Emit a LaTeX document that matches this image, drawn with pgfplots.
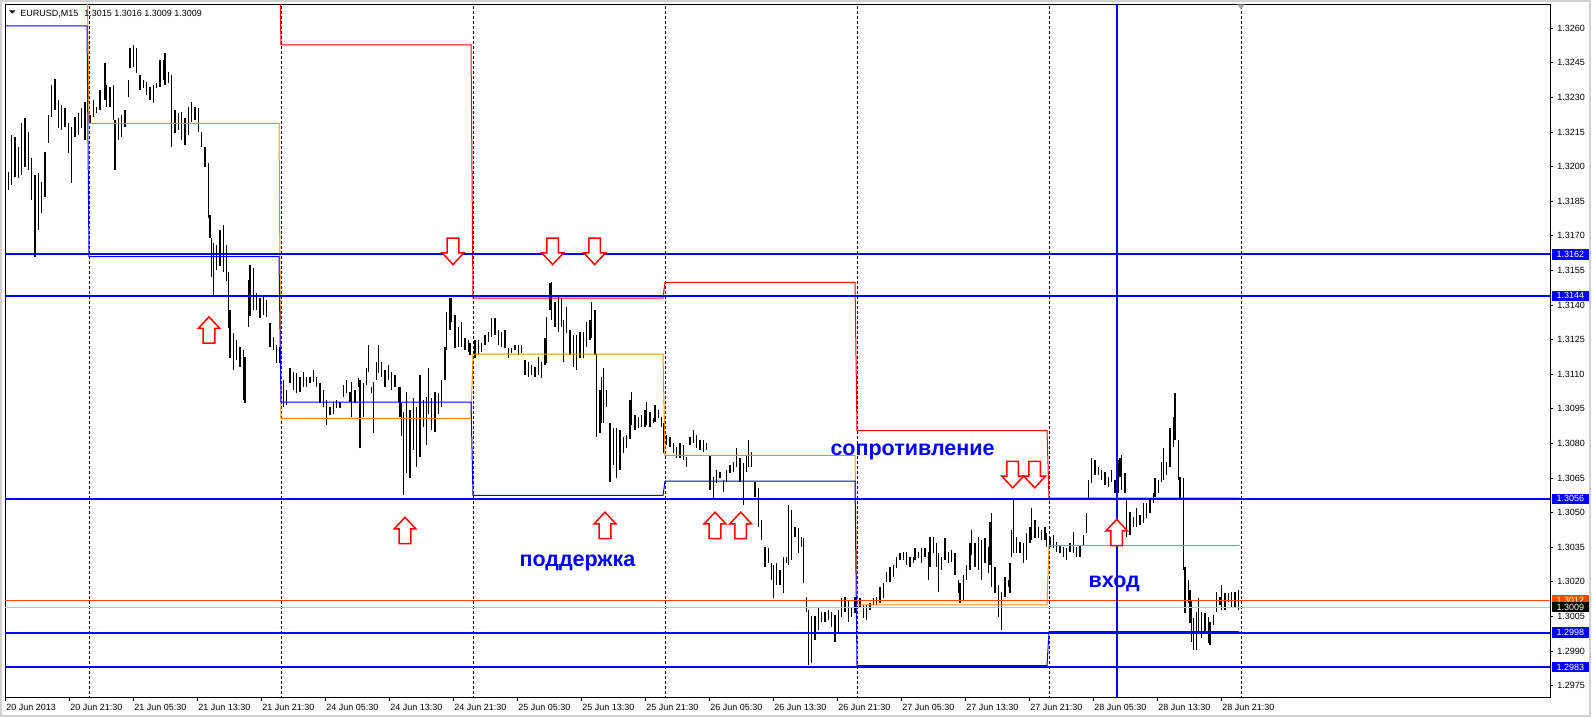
\documentclass[border=0pt]{standalone}
\usepackage{fontspec}
\setmainfont{Liberation Sans}
\usepackage{pgfplots}
\pgfplotsset{compat=1.18}
\definecolor{mtblue}{RGB}{0,0,255}
\definecolor{mtorange}{RGB}{255,140,0}
\definecolor{mtred}{RGB}{255,0,0}
\definecolor{mtorangered}{RGB}{255,69,0}
\definecolor{mtgray}{RGB}{192,192,192}
\pgfdeclareplotmark{arrowup}{%
  \pgfpathmoveto{\pgfqpoint{0pt}{6.6pt}}%
  \pgfpathlineto{\pgfqpoint{5.4pt}{0.8pt}}%
  \pgfpathlineto{\pgfqpoint{2.9pt}{0.8pt}}%
  \pgfpathlineto{\pgfqpoint{2.9pt}{-6.6pt}}%
  \pgfpathlineto{\pgfqpoint{-2.9pt}{-6.6pt}}%
  \pgfpathlineto{\pgfqpoint{-2.9pt}{0.8pt}}%
  \pgfpathlineto{\pgfqpoint{-5.4pt}{0.8pt}}%
  \pgfpathclose
  \pgfusepathqfillstroke}
\pgfdeclareplotmark{arrowdown}{%
  \pgfpathmoveto{\pgfqpoint{0pt}{-6.6pt}}%
  \pgfpathlineto{\pgfqpoint{5.4pt}{-0.8pt}}%
  \pgfpathlineto{\pgfqpoint{2.9pt}{-0.8pt}}%
  \pgfpathlineto{\pgfqpoint{2.9pt}{6.6pt}}%
  \pgfpathlineto{\pgfqpoint{-2.9pt}{6.6pt}}%
  \pgfpathlineto{\pgfqpoint{-2.9pt}{-0.8pt}}%
  \pgfpathlineto{\pgfqpoint{-5.4pt}{-0.8pt}}%
  \pgfpathclose
  \pgfusepathqfillstroke}
\begin{document}
\begin{tikzpicture}
\path[use as bounding box] (-2.5pt,-10pt) rectangle (793.5pt,349pt);
\draw[black!18, line width=1pt] (-2pt,-9pt) rectangle (792.3pt,348.5pt);
\begin{axis}[
  scale only axis, width=772.5pt, height=346.85pt,
  xmin=0, xmax=193.125, ymin=1.296967, ymax=1.327040,
  axis line style={black, line width=0.5pt},
  clip=true,
  tick align=outside, major tick length=1.5pt,
  tick style={black, line width=0.5pt},
  xtick pos=left, ytick pos=right, yticklabel pos=right,
  ytick={1.2975,1.2990,1.3005,1.3020,1.3035,1.3050,1.3065,1.3080,1.3095,1.3110,1.3125,1.3140,1.3155,1.3170,1.3185,1.3200,1.3215,1.3230,1.3245,1.3260},
  yticklabels={1.2975,1.2990,1.3005,1.3020,1.3035,1.3050,1.3065,1.3080,1.3095,1.3110,1.3125,1.3140,1.3155,1.3170,1.3185,1.3200,1.3215,1.3230,1.3245,1.3260},
  xtick={0,8,...,152},
  xticklabels={20 Jun 2013,20 Jun 21:30,21 Jun 05:30,21 Jun 13:30,21 Jun 21:30,24 Jun 05:30,24 Jun 13:30,24 Jun 21:30,25 Jun 05:30,25 Jun 13:30,25 Jun 21:30,26 Jun 05:30,26 Jun 13:30,26 Jun 21:30,27 Jun 05:30,27 Jun 13:30,27 Jun 21:30,28 Jun 05:30,28 Jun 13:30,28 Jun 21:30},
  xticklabel style={anchor=north west, inner sep=0pt, xshift=0.5pt, yshift=-1.5pt, font=\fontsize{4.5}{5.4}\selectfont},
  yticklabel style={anchor=west, inner sep=0pt, xshift=2pt, font=\fontsize{4.5}{5.4}\selectfont},
  unbounded coords=jump,
]
% day separators
\addplot[black, line width=0.5pt, dash pattern=on 1.5pt off 1pt, forget plot] coordinates {(10.5,1.29) (10.5,1.33)};
\addplot[black, line width=0.5pt, dash pattern=on 1.5pt off 1pt, forget plot] coordinates {(34.5,1.29) (34.5,1.33)};
\addplot[black, line width=0.5pt, dash pattern=on 1.5pt off 1pt, forget plot] coordinates {(58.5,1.29) (58.5,1.33)};
\addplot[black, line width=0.5pt, dash pattern=on 1.5pt off 1pt, forget plot] coordinates {(82.5,1.29) (82.5,1.33)};
\addplot[black, line width=0.5pt, dash pattern=on 1.5pt off 1pt, forget plot] coordinates {(106.5,1.29) (106.5,1.33)};
\addplot[black, line width=0.5pt, dash pattern=on 1.5pt off 1pt, forget plot] coordinates {(130.5,1.29) (130.5,1.33)};
\addplot[black, line width=0.5pt, dash pattern=on 1.5pt off 1pt, forget plot] coordinates {(154.5,1.29) (154.5,1.33)};
% price bars: each bar low -> high, separated by nan
\addplot[black, line width=0.75pt, mark=none, forget plot] coordinates {
(0.000,1.31820) (0.000,1.32022) (0.000,nan) (0.417,1.31899) (0.417,1.31979) (0.417,nan) (0.833,1.31921) (0.833,1.32138) (0.833,nan)
(1.250,1.31957) (1.250,1.32130) (1.250,nan) (1.667,1.31950) (1.667,1.32087) (1.667,nan) (2.083,1.31964) (2.083,1.32188) (2.083,nan)
(2.500,1.32000) (2.500,1.32210) (2.500,nan) (2.917,1.31986) (2.917,1.32152) (2.917,nan) (3.333,1.31856) (3.333,1.32036) (3.333,nan)
(3.750,1.31610) (3.750,1.31964) (3.750,nan) (4.167,1.31726) (4.167,1.31971) (4.167,nan) (4.583,1.31798) (4.583,1.31935) (4.583,nan)
(5.000,1.31870) (5.000,1.32065) (5.000,nan) (5.417,1.32101) (5.417,1.32224) (5.417,nan) (5.833,1.32217) (5.833,1.32354) (5.833,nan)
(6.250,1.32246) (6.250,1.32380) (6.250,nan) (6.667,1.32166) (6.667,1.32289) (6.667,nan) (7.083,1.32159) (7.083,1.32268) (7.083,nan)
(7.500,1.32174) (7.500,1.32253) (7.500,nan) (7.917,1.32058) (7.917,1.32188) (7.917,nan) (8.333,1.31928) (8.333,1.32174) (8.333,nan)
(8.750,1.32130) (8.750,1.32217) (8.750,nan) (9.167,1.32138) (9.167,1.32232) (9.167,nan) (9.583,1.32166) (9.583,1.32253) (9.583,nan)
(10.000,1.32116) (10.000,1.32282) (10.000,nan) (10.625,1.32188) (10.625,1.32224) (10.625,nan) (11.042,1.32217) (11.042,1.32289) (11.042,nan)
(11.458,1.32232) (11.458,1.32260) (11.458,nan) (11.875,1.32246) (11.875,1.32333) (11.875,nan) (12.500,1.32289) (12.500,1.32448) (12.500,nan)
(12.708,1.32260) (12.708,1.32354) (12.708,nan) (13.125,1.32260) (13.125,1.32347) (13.125,nan) (13.542,1.32203) (13.542,1.32354) (13.542,nan)
(13.750,1.31986) (13.750,1.32203) (13.750,nan) (14.167,1.32116) (14.167,1.32210) (14.167,nan) (14.583,1.32130) (14.583,1.32224) (14.583,nan)
(15.000,1.32174) (15.000,1.32246) (15.000,nan) (15.417,1.32304) (15.417,1.32376) (15.417,nan) (15.625,1.32427) (15.625,1.32513) (15.625,nan)
(16.042,1.32434) (16.042,1.32528) (16.042,nan) (16.458,1.32405) (16.458,1.32513) (16.458,nan) (16.875,1.32333) (16.875,1.32398) (16.875,nan)
(17.292,1.32340) (17.292,1.32376) (17.292,nan) (17.708,1.32311) (17.708,1.32369) (17.708,nan) (18.125,1.32289) (18.125,1.32347) (18.125,nan)
(18.542,1.32275) (18.542,1.32354) (18.542,nan) (18.958,1.32340) (18.958,1.32362) (18.958,nan) (19.375,1.32347) (19.375,1.32463) (19.375,nan)
(19.792,1.32376) (19.792,1.32463) (19.792,nan) (20.000,1.32354) (20.000,1.32492) (20.000,nan) (20.417,1.32362) (20.417,1.32412) (20.417,nan)
(20.833,1.32087) (20.833,1.32398) (20.833,nan) (21.250,1.32145) (21.250,1.32246) (21.250,nan) (21.667,1.32159) (21.667,1.32232) (21.667,nan)
(22.083,1.32116) (22.083,1.32239) (22.083,nan) (22.500,1.32094) (22.500,1.32210) (22.500,nan) (22.917,1.32138) (22.917,1.32260) (22.917,nan)
(23.333,1.32195) (23.333,1.32282) (23.333,nan) (23.750,1.32203) (23.750,1.32260) (23.750,nan) (24.167,1.32152) (24.167,1.32253) (24.167,nan)
(24.583,1.32087) (24.583,1.32152) (24.583,nan) (25.000,1.32000) (25.000,1.32087) (25.000,nan) (25.417,1.31776) (25.417,1.32015) (25.417,nan)
(25.625,1.31690) (25.625,1.31791) (25.625,nan) (25.833,1.31523) (25.833,1.31690) (25.833,nan) (26.042,1.31444) (26.042,1.31669) (26.042,nan)
(26.458,1.31552) (26.458,1.31661) (26.458,nan) (26.875,1.31570) (26.875,1.31726) (26.875,nan) (27.292,1.31544) (27.292,1.31747) (27.292,nan)
(27.708,1.31504) (27.708,1.31661) (27.708,nan) (27.917,1.31299) (27.917,1.31545) (27.917,nan) (28.125,1.31169) (28.125,1.31379) (28.125,nan)
(28.542,1.31119) (28.542,1.31278) (28.542,nan) (28.958,1.31162) (28.958,1.31249) (28.958,nan) (29.375,1.31133) (29.375,1.31220) (29.375,nan)
(29.792,1.30988) (29.792,1.31205) (29.792,nan) (30.000,1.30974) (30.000,1.31177) (30.000,nan) (30.417,1.31307) (30.417,1.31509) (30.417,nan)
(30.625,1.31351) (30.625,1.31574) (30.625,nan) (31.042,1.31379) (31.042,1.31559) (31.042,nan) (31.458,1.31379) (31.458,1.31451) (31.458,nan)
(31.875,1.31343) (31.875,1.31429) (31.875,nan) (32.292,1.31357) (32.292,1.31444) (32.292,nan) (32.708,1.31350) (32.708,1.31422) (32.708,nan)
(33.125,1.31220) (33.125,1.31321) (33.125,nan) (33.542,1.31205) (33.542,1.31263) (33.542,nan) (33.958,1.31148) (33.958,1.31227) (33.958,nan)
(34.375,1.31148) (34.375,1.31220) (34.375,nan) (34.792,1.30960) (34.792,1.31075) (34.792,nan) (35.208,1.30967) (35.208,1.31032) (35.208,nan)
(35.625,1.31061) (35.625,1.31126) (35.625,nan) (36.042,1.31032) (36.042,1.31111) (36.042,nan) (36.458,1.31017) (36.458,1.31104) (36.458,nan)
(36.875,1.31025) (36.875,1.31090) (36.875,nan) (37.292,1.31047) (37.292,1.31111) (37.292,nan) (37.708,1.31047) (37.708,1.31090) (37.708,nan)
(38.125,1.31061) (38.125,1.31090) (38.125,nan) (38.542,1.31068) (38.542,1.31119) (38.542,nan) (38.958,1.31047) (38.958,1.31090) (38.958,nan)
(39.375,1.30974) (39.375,1.31061) (39.375,nan) (39.792,1.30960) (39.792,1.31032) (39.792,nan) (40.208,1.30880) (40.208,1.30988) (40.208,nan)
(40.625,1.30924) (40.625,1.30960) (40.625,nan) (41.042,1.30930) (41.042,1.30981) (41.042,nan) (41.458,1.30953) (41.458,1.30988) (41.458,nan)
(41.875,1.30953) (41.875,1.30981) (41.875,nan) (42.292,1.31003) (42.292,1.31054) (42.292,nan) (42.708,1.31017) (42.708,1.31075) (42.708,nan)
(43.125,1.30981) (43.125,1.31025) (43.125,nan) (43.333,1.30916) (43.333,1.31068) (43.333,nan) (43.750,1.30974) (43.750,1.31032) (43.750,nan)
(44.167,1.31047) (44.167,1.31083) (44.167,nan) (44.375,1.30779) (44.375,1.31075) (44.375,nan) (44.792,1.30916) (44.792,1.31061) (44.792,nan)
(45.208,1.31054) (45.208,1.31126) (45.208,nan) (45.417,1.31111) (45.417,1.31227) (45.417,nan) (45.833,1.31017) (45.833,1.31047) (45.833,nan)
(46.042,1.30844) (46.042,1.31068) (46.042,nan) (46.458,1.31075) (46.458,1.31155) (46.458,nan) (46.667,1.31104) (46.667,1.31227) (46.667,nan)
(47.083,1.31090) (47.083,1.31155) (47.083,nan) (47.500,1.31047) (47.500,1.31119) (47.500,nan) (47.917,1.31075) (47.917,1.31140) (47.917,nan)
(48.333,1.31032) (48.333,1.31111) (48.333,nan) (48.750,1.31047) (48.750,1.31097) (48.750,nan) (49.167,1.30981) (49.167,1.31047) (49.167,nan)
(49.375,1.30916) (49.375,1.31047) (49.375,nan) (49.583,1.30831) (49.583,1.30974) (49.583,nan) (49.792,1.30577) (49.792,1.30938) (49.792,nan)
(50.208,1.30671) (50.208,1.31025) (50.208,nan) (50.625,1.30649) (50.625,1.30946) (50.625,nan) (51.042,1.30772) (51.042,1.30996) (51.042,nan)
(51.458,1.30700) (51.458,1.30960) (51.458,nan) (51.875,1.30743) (51.875,1.31097) (51.875,nan) (52.292,1.30873) (52.292,1.30988) (52.292,nan)
(52.708,1.30793) (52.708,1.31003) (52.708,nan) (52.917,1.30930) (52.917,1.31126) (52.917,nan) (53.333,1.30858) (53.333,1.30996) (53.333,nan)
(53.750,1.30851) (53.750,1.31025) (53.750,nan) (54.167,1.30930) (54.167,1.31017) (54.167,nan) (54.583,1.30960) (54.583,1.31075) (54.583,nan)
(55.000,1.31075) (55.000,1.31220) (55.000,nan) (55.208,1.31205) (55.208,1.31372) (55.208,nan) (55.625,1.31292) (55.625,1.31429) (55.625,nan)
(55.833,1.31328) (55.833,1.31429) (55.833,nan) (56.250,1.31213) (56.250,1.31357) (56.250,nan) (56.667,1.31220) (56.667,1.31306) (56.667,nan)
(57.083,1.31220) (57.083,1.31328) (57.083,nan) (57.500,1.31205) (57.500,1.31256) (57.500,nan) (57.917,1.31198) (57.917,1.31249) (57.917,nan)
(58.125,1.31184) (58.125,1.31234) (58.125,nan) (58.750,1.31169) (58.750,1.31249) (58.750,nan) (59.167,1.31183) (59.167,1.31249) (59.167,nan)
(59.583,1.31198) (59.583,1.31234) (59.583,nan) (60.000,1.31227) (60.000,1.31270) (60.000,nan) (60.417,1.31242) (60.417,1.31285) (60.417,nan)
(60.833,1.31263) (60.833,1.31343) (60.833,nan) (61.250,1.31270) (61.250,1.31343) (61.250,nan) (61.667,1.31227) (61.667,1.31292) (61.667,nan)
(62.083,1.31220) (62.083,1.31285) (62.083,nan) (62.500,1.31213) (62.500,1.31292) (62.500,nan) (62.917,1.31169) (62.917,1.31213) (62.917,nan)
(63.333,1.31191) (63.333,1.31213) (63.333,nan) (63.750,1.31205) (63.750,1.31227) (63.750,nan) (64.167,1.31183) (64.167,1.31227) (64.167,nan)
(64.583,1.31191) (64.583,1.31227) (64.583,nan) (65.000,1.31097) (65.000,1.31162) (65.000,nan) (65.417,1.31090) (65.417,1.31155) (65.417,nan)
(65.833,1.31097) (65.833,1.31140) (65.833,nan) (66.250,1.31090) (66.250,1.31133) (66.250,nan) (66.667,1.31097) (66.667,1.31177) (66.667,nan)
(67.083,1.31083) (67.083,1.31155) (67.083,nan) (67.500,1.31140) (67.500,1.31256) (67.500,nan) (67.708,1.31148) (67.708,1.31350) (67.708,nan)
(68.125,1.31379) (68.125,1.31494) (68.125,nan) (68.333,1.31335) (68.333,1.31502) (68.333,nan) (68.750,1.31306) (68.750,1.31415) (68.750,nan)
(69.167,1.31285) (69.167,1.31437) (69.167,nan) (69.583,1.31306) (69.583,1.31429) (69.583,nan) (69.792,1.31155) (69.792,1.31335) (69.792,nan)
(70.208,1.31278) (70.208,1.31393) (70.208,nan) (70.625,1.31183) (70.625,1.31292) (70.625,nan) (71.042,1.31133) (71.042,1.31270) (71.042,nan)
(71.458,1.31119) (71.458,1.31270) (71.458,nan) (71.875,1.31169) (71.875,1.31285) (71.875,nan) (72.292,1.31169) (72.292,1.31285) (72.292,nan)
(72.708,1.31220) (72.708,1.31328) (72.708,nan) (73.125,1.31249) (73.125,1.31335) (73.125,nan) (73.333,1.31256) (73.333,1.31415) (73.333,nan)
(73.750,1.31183) (73.750,1.31379) (73.750,nan) (73.958,1.30829) (73.958,1.31190) (73.958,nan) (74.375,1.30844) (74.375,1.31032) (74.375,nan)
(74.583,1.30887) (74.583,1.31090) (74.583,nan) (74.792,1.30887) (74.792,1.31126) (74.792,nan) (75.208,1.30960) (75.208,1.31032) (75.208,nan)
(75.625,1.30634) (75.625,1.30887) (75.625,nan) (76.042,1.30707) (76.042,1.30866) (76.042,nan) (76.458,1.30649) (76.458,1.30866) (76.458,nan)
(76.875,1.30685) (76.875,1.30858) (76.875,nan) (77.292,1.30757) (77.292,1.30829) (77.292,nan) (77.708,1.30779) (77.708,1.30837) (77.708,nan)
(78.125,1.30821) (78.125,1.30988) (78.125,nan) (78.333,1.30880) (78.333,1.31025) (78.333,nan) (78.750,1.30858) (78.750,1.30924) (78.750,nan)
(79.167,1.30866) (79.167,1.30916) (79.167,nan) (79.583,1.30873) (79.583,1.30924) (79.583,nan) (80.000,1.30873) (80.000,1.30946) (80.000,nan)
(80.208,1.30880) (80.208,1.30981) (80.208,nan) (80.625,1.30873) (80.625,1.30938) (80.625,nan) (81.042,1.30887) (81.042,1.30909) (81.042,nan)
(81.250,1.30894) (81.250,1.30967) (81.250,nan) (81.667,1.30909) (81.667,1.30946) (81.667,nan) (82.083,1.30873) (82.083,1.30916) (82.083,nan)
(82.292,1.30757) (82.292,1.30887) (82.292,nan) (82.708,1.30794) (82.708,1.30837) (82.708,nan) (83.125,1.30786) (83.125,1.30830) (83.125,nan)
(83.542,1.30757) (83.542,1.30800) (83.542,nan) (83.958,1.30736) (83.958,1.30786) (83.958,nan) (84.375,1.30736) (84.375,1.30800) (84.375,nan)
(84.792,1.30728) (84.792,1.30794) (84.792,nan) (85.208,1.30699) (85.208,1.30743) (85.208,nan) (85.625,1.30794) (85.625,1.30830) (85.625,nan)
(86.042,1.30800) (86.042,1.30859) (86.042,nan) (86.458,1.30779) (86.458,1.30837) (86.458,nan) (86.875,1.30772) (86.875,1.30815) (86.875,nan)
(87.292,1.30765) (87.292,1.30815) (87.292,nan) (87.708,1.30772) (87.708,1.30800) (87.708,nan) (88.125,1.30598) (88.125,1.30750) (88.125,nan)
(88.542,1.30562) (88.542,1.30656) (88.542,nan) (88.958,1.30627) (88.958,1.30685) (88.958,nan) (89.375,1.30649) (89.375,1.30677) (89.375,nan)
(89.792,1.30591) (89.792,1.30641) (89.792,nan) (90.208,1.30634) (90.208,1.30685) (90.208,nan) (90.625,1.30671) (90.625,1.30706) (90.625,nan)
(91.042,1.30678) (91.042,1.30721) (91.042,nan) (91.458,1.30699) (91.458,1.30779) (91.458,nan) (91.875,1.30634) (91.875,1.30735) (91.875,nan)
(92.292,1.30533) (92.292,1.30714) (92.292,nan) (92.708,1.30678) (92.708,1.30750) (92.708,nan) (92.917,1.30699) (92.917,1.30815) (92.917,nan)
(93.333,1.30699) (93.333,1.30764) (93.333,nan) (93.750,1.30570) (93.750,1.30634) (93.750,nan) (94.167,1.30440) (94.167,1.30606) (94.167,nan)
(94.583,1.30382) (94.583,1.30468) (94.583,nan) (95.000,1.30266) (95.000,1.30353) (95.000,nan) (95.417,1.30281) (95.417,1.30346) (95.417,nan)
(95.833,1.30208) (95.833,1.30281) (95.833,nan) (96.042,1.30129) (96.042,1.30273) (96.042,nan) (96.458,1.30187) (96.458,1.30281) (96.458,nan)
(96.875,1.30187) (96.875,1.30252) (96.875,nan) (97.292,1.30151) (97.292,1.30310) (97.292,nan) (97.708,1.30281) (97.708,1.30310) (97.708,nan)
(97.917,1.30273) (97.917,1.30533) (97.917,nan) (98.333,1.30295) (98.333,1.30511) (98.333,nan) (98.750,1.30396) (98.750,1.30439) (98.750,nan)
(99.167,1.30324) (99.167,1.30432) (99.167,nan) (99.583,1.30353) (99.583,1.30396) (99.583,nan) (99.792,1.30194) (99.792,1.30389) (99.792,nan)
(100.208,1.30071) (100.208,1.30136) (100.208,nan) (100.417,1.29840) (100.417,1.30078) (100.417,nan) (100.833,1.29847) (100.833,1.30050) (100.833,nan)
(101.250,1.29948) (101.250,1.30050) (101.250,nan) (101.667,1.29992) (101.667,1.30086) (101.667,nan) (102.083,1.30028) (102.083,1.30071) (102.083,nan)
(102.500,1.30028) (102.500,1.30071) (102.500,nan) (102.917,1.30035) (102.917,1.30078) (102.917,nan) (103.333,1.30006) (103.333,1.30071) (103.333,nan)
(103.750,1.29941) (103.750,1.30057) (103.750,nan) (104.167,1.29977) (104.167,1.30078) (104.167,nan) (104.583,1.30049) (104.583,1.30129) (104.583,nan)
(105.000,1.30071) (105.000,1.30136) (105.000,nan) (105.417,1.30028) (105.417,1.30122) (105.417,nan) (105.833,1.30049) (105.833,1.30093) (105.833,nan)
(106.250,1.30064) (106.250,1.30136) (106.250,nan) (106.875,1.30093) (106.875,1.30129) (106.875,nan) (107.292,1.30042) (107.292,1.30100) (107.292,nan)
(107.708,1.30035) (107.708,1.30100) (107.708,nan) (108.125,1.30078) (108.125,1.30107) (108.125,nan) (108.542,1.30100) (108.542,1.30129) (108.542,nan)
(108.958,1.30100) (108.958,1.30136) (108.958,nan) (109.375,1.30107) (109.375,1.30179) (109.375,nan) (109.792,1.30129) (109.792,1.30194) (109.792,nan)
(110.208,1.30201) (110.208,1.30244) (110.208,nan) (110.625,1.30201) (110.625,1.30266) (110.625,nan) (111.042,1.30223) (111.042,1.30273) (111.042,nan)
(111.458,1.30259) (111.458,1.30310) (111.458,nan) (111.875,1.30295) (111.875,1.30324) (111.875,nan) (112.292,1.30295) (112.292,1.30331) (112.292,nan)
(112.708,1.30273) (112.708,1.30331) (112.708,nan) (113.125,1.30266) (113.125,1.30310) (113.125,nan) (113.542,1.30281) (113.542,1.30310) (113.542,nan)
(113.750,1.30295) (113.750,1.30346) (113.750,nan) (114.167,1.30302) (114.167,1.30331) (114.167,nan) (114.583,1.30281) (114.583,1.30346) (114.583,nan)
(115.000,1.30310) (115.000,1.30346) (115.000,nan) (115.417,1.30208) (115.417,1.30331) (115.417,nan) (115.625,1.30266) (115.625,1.30396) (115.625,nan)
(116.042,1.30324) (116.042,1.30396) (116.042,nan) (116.458,1.30266) (116.458,1.30367) (116.458,nan) (116.667,1.30157) (116.667,1.30324) (116.667,nan)
(117.083,1.30252) (117.083,1.30310) (117.083,nan) (117.500,1.30295) (117.500,1.30389) (117.500,nan) (117.917,1.30281) (117.917,1.30331) (117.917,nan)
(118.333,1.30288) (118.333,1.30338) (118.333,nan) (118.750,1.30230) (118.750,1.30324) (118.750,nan) (119.167,1.30150) (119.167,1.30208) (119.167,nan)
(119.375,1.30107) (119.375,1.30194) (119.375,nan) (119.792,1.30122) (119.792,1.30230) (119.792,nan) (120.208,1.30208) (120.208,1.30273) (120.208,nan)
(120.625,1.30252) (120.625,1.30367) (120.625,nan) (120.833,1.30317) (120.833,1.30425) (120.833,nan) (121.250,1.30266) (121.250,1.30367) (121.250,nan)
(121.667,1.30252) (121.667,1.30396) (121.667,nan) (122.083,1.30208) (122.083,1.30382) (122.083,nan) (122.500,1.30281) (122.500,1.30389) (122.500,nan)
(122.917,1.30237) (122.917,1.30353) (122.917,nan) (123.125,1.30273) (123.125,1.30461) (123.125,nan) (123.333,1.30179) (123.333,1.30497) (123.333,nan)
(123.750,1.30150) (123.750,1.30266) (123.750,nan) (124.167,1.30049) (124.167,1.30187) (124.167,nan) (124.583,1.29992) (124.583,1.30158) (124.583,nan)
(125.000,1.30136) (125.000,1.30223) (125.000,nan) (125.417,1.30179) (125.417,1.30208) (125.417,nan) (125.625,1.30151) (125.625,1.30281) (125.625,nan)
(125.833,1.30310) (125.833,1.30425) (125.833,nan) (126.042,1.30324) (126.042,1.30555) (126.042,nan) (126.458,1.30324) (126.458,1.30396) (126.458,nan)
(126.875,1.30324) (126.875,1.30375) (126.875,nan) (127.292,1.30281) (127.292,1.30367) (127.292,nan) (127.708,1.30295) (127.708,1.30410) (127.708,nan)
(128.125,1.30367) (128.125,1.30439) (128.125,nan) (128.333,1.30382) (128.333,1.30519) (128.333,nan) (128.750,1.30389) (128.750,1.30468) (128.750,nan)
(129.167,1.30389) (129.167,1.30439) (129.167,nan) (129.583,1.30382) (129.583,1.30425) (129.583,nan) (130.000,1.30382) (130.000,1.30439) (130.000,nan)
(130.208,1.30353) (130.208,1.30410) (130.208,nan) (130.625,1.30353) (130.625,1.30396) (130.625,nan) (131.042,1.30346) (131.042,1.30403) (131.042,nan)
(131.458,1.30331) (131.458,1.30375) (131.458,nan) (131.875,1.30324) (131.875,1.30360) (131.875,nan) (132.292,1.30310) (132.292,1.30353) (132.292,nan)
(132.708,1.30295) (132.708,1.30346) (132.708,nan) (133.125,1.30331) (133.125,1.30367) (133.125,nan) (133.542,1.30324) (133.542,1.30418) (133.542,nan)
(133.958,1.30310) (133.958,1.30353) (133.958,nan) (134.375,1.30310) (134.375,1.30360) (134.375,nan) (134.792,1.30360) (134.792,1.30403) (134.792,nan)
(135.208,1.30410) (135.208,1.30497) (135.208,nan) (135.417,1.30555) (135.417,1.30642) (135.417,nan) (135.833,1.30627) (135.833,1.30736) (135.833,nan)
(136.250,1.30663) (136.250,1.30728) (136.250,nan) (136.667,1.30663) (136.667,1.30699) (136.667,nan) (137.083,1.30641) (137.083,1.30685) (137.083,nan)
(137.500,1.30620) (137.500,1.30678) (137.500,nan) (137.917,1.30613) (137.917,1.30656) (137.917,nan) (138.333,1.30634) (138.333,1.30685) (138.333,nan)
(138.750,1.30584) (138.750,1.30642) (138.750,nan) (139.167,1.30584) (139.167,1.30728) (139.167,nan) (139.375,1.30656) (139.375,1.30736) (139.375,nan)
(139.583,1.30598) (139.583,1.30750) (139.583,nan) (140.000,1.30584) (140.000,1.30671) (140.000,nan) (140.208,1.30396) (140.208,1.30562) (140.208,nan)
(140.625,1.30403) (140.625,1.30504) (140.625,nan) (141.042,1.30439) (141.042,1.30482) (141.042,nan) (141.458,1.30439) (141.458,1.30519) (141.458,nan)
(141.875,1.30447) (141.875,1.30490) (141.875,nan) (142.292,1.30454) (142.292,1.30540) (142.292,nan) (142.708,1.30475) (142.708,1.30540) (142.708,nan)
(143.125,1.30497) (143.125,1.30555) (143.125,nan) (143.542,1.30540) (143.542,1.30584) (143.542,nan) (143.750,1.30569) (143.750,1.30649) (143.750,nan)
(144.167,1.30584) (144.167,1.30642) (144.167,nan) (144.583,1.30634) (144.583,1.30721) (144.583,nan) (144.792,1.30642) (144.792,1.30779) (144.792,nan)
(145.208,1.30663) (145.208,1.30721) (145.208,nan) (145.625,1.30700) (145.625,1.30866) (145.625,nan) (146.042,1.30786) (146.042,1.30916) (146.042,nan)
(146.250,1.30815) (146.250,1.31017) (146.250,nan) (146.667,1.30642) (146.667,1.30815) (146.667,nan) (146.875,1.30555) (146.875,1.30656) (146.875,nan)
(147.292,1.30252) (147.292,1.30649) (147.292,nan) (147.500,1.30064) (147.500,1.30266) (147.500,nan) (147.917,1.30107) (147.917,1.30208) (147.917,nan)
(148.125,1.30020) (148.125,1.30165) (148.125,nan) (148.333,1.29941) (148.333,1.30122) (148.333,nan) (148.542,1.29905) (148.542,1.30042) (148.542,nan)
(148.958,1.29905) (148.958,1.30071) (148.958,nan) (149.167,1.29977) (149.167,1.30129) (149.167,nan) (149.583,1.29955) (149.583,1.30071) (149.583,nan)
(150.000,1.29977) (150.000,1.30064) (150.000,nan) (150.417,1.29934) (150.417,1.30049) (150.417,nan) (150.625,1.29926) (150.625,1.30028) (150.625,nan)
(151.042,1.30013) (151.042,1.30057) (151.042,nan) (151.458,1.30071) (151.458,1.30158) (151.458,nan) (151.875,1.30100) (151.875,1.30136) (151.875,nan)
(152.083,1.30078) (152.083,1.30187) (152.083,nan) (152.500,1.30078) (152.500,1.30151) (152.500,nan) (152.917,1.30115) (152.917,1.30151) (152.917,nan)
(153.333,1.30086) (153.333,1.30158) (153.333,nan) (153.750,1.30093) (153.750,1.30158) (153.750,nan) (154.167,1.30078) (154.167,1.30165) (154.167,nan)
};
% daily levels indicator
\addplot[mtred, line width=0.5pt, forget plot] coordinates {(0,1.3300) (10.25,1.3300) (10.5,1.3300) (34.25,1.3300) (34.5,1.32528) (58.25,1.32528) (58.5,1.31430) (82.25,1.31430) (82.5,1.31499) (106.25,1.31499) (106.5,1.30856) (130.25,1.30856) (130.5,1.30563) (154.25,1.30563)};
\addplot[mtorange, line width=0.5pt, forget plot] coordinates {(0,1.3290) (10.25,1.3290) (10.5,1.32188) (34.25,1.32188) (34.5,1.30909) (58.25,1.30909) (58.5,1.31187) (82.25,1.31187) (82.5,1.30749) (106.25,1.30749) (106.5,1.30100) (130.25,1.30100) (130.5,1.30357) (154.25,1.30357)};
\addplot[mtblue, line width=0.5pt, forget plot] coordinates {(0,1.32610) (10.25,1.32610) (10.5,1.31610) (34.25,1.31610) (34.5,1.30979) (58.25,1.30979) (58.5,1.30575) (82.25,1.30575) (82.5,1.30637) (106.25,1.30637) (106.5,1.29837) (130.25,1.29837) (130.5,1.29984) (154.25,1.29984)};
% horizontal levels
\addplot[mtorangered, line width=0.5pt, forget plot] coordinates {(0,1.3012) (193.125,1.3012)};
\addplot[mtgray, line width=0.5pt, forget plot] coordinates {(0,1.3009) (193.125,1.3009)};
\addplot[mtblue, line width=1pt, forget plot] coordinates {(0,1.3162) (193.125,1.3162)};
\addplot[mtblue, line width=1pt, forget plot] coordinates {(0,1.3144) (193.125,1.3144)};
\addplot[mtblue, line width=1pt, forget plot] coordinates {(0,1.3056) (193.125,1.3056)};
\addplot[mtblue, line width=1pt, forget plot] coordinates {(0,1.2998) (193.125,1.2998)};
\addplot[mtblue, line width=1pt, forget plot] coordinates {(0,1.2983) (193.125,1.2983)};
\addplot[mtblue, line width=1.1pt, forget plot] coordinates {(139,1.29) (139,1.33)};
% arrows
\addplot[only marks, mark=arrowup, mark options={fill=white, draw=mtred, line width=0.75pt, solid}, forget plot] coordinates {(25.5,1.31292) (50.0,1.30423) (75.0,1.30445) (88.75,1.30445) (91.96,1.30445) (138.96,1.30414)};
\addplot[only marks, mark=arrowdown, mark options={fill=white, draw=mtred, line width=0.75pt, solid}, forget plot] coordinates {(56.0,1.31633) (68.46,1.31633) (73.71,1.31633) (125.96,1.30665) (128.71,1.30665)};
% labels
\node[anchor=base, text=mtblue, inner sep=0pt, font=\bfseries\fontsize{10.75}{12}\selectfont] at (axis cs:113.44,1.30746) {сопротивление};
\node[anchor=base, text=mtblue, inner sep=0pt, font=\bfseries\fontsize{10.75}{12}\selectfont] at (axis cs:71.56,1.30265) {поддержка};
\node[anchor=base, text=mtblue, inner sep=0pt, font=\bfseries\fontsize{10.75}{12}\selectfont] at (axis cs:138.66,1.30177) {вход};
% header
\fill[black] (rel axis cs:0,1) ++(2pt,-3.1pt) -- ++(3.2pt,0pt) -- ++(-1.6pt,-1.6pt) -- cycle;
\node[anchor=base west, inner sep=0pt, font=\fontsize{4.5}{5.4}\selectfont] at (rel axis cs:0,1) [xshift=7.5pt, yshift=-5.9pt] {EURUSD,M15\hspace{3pt}1.3015 1.3016 1.3009 1.3009};
\fill[black!35] (axis cs:154.5,1.327040) ++(-2pt,0pt) -- ++(4pt,0pt) -- ++(-2pt,-2.5pt) -- cycle;
% anchor points for price boxes
\coordinate (L3162) at (axis cs:193.125,1.3162);
\coordinate (L3144) at (axis cs:193.125,1.3144);
\coordinate (L3056) at (axis cs:193.125,1.3056);
\coordinate (L2998) at (axis cs:193.125,1.2998);
\coordinate (L2983) at (axis cs:193.125,1.2983);
\coordinate (L3012) at (axis cs:193.125,1.3012);
\coordinate (L3009) at (axis cs:193.125,1.3009);
\end{axis}
\tikzset{pbox/.style={anchor=west, inner sep=0pt, minimum width=18.3pt, minimum height=5.2pt, font=\fontsize{4.5}{5.4}\selectfont, text=white}}
\node[pbox, fill=mtblue] at ([xshift=0.85pt]L3162) {1.3162};
\node[pbox, fill=mtblue] at ([xshift=0.85pt]L3144) {1.3144};
\node[pbox, fill=mtblue] at ([xshift=0.85pt]L3056) {1.3056};
\node[pbox, fill=mtblue] at ([xshift=0.85pt]L2998) {1.2998};
\node[pbox, fill=mtblue] at ([xshift=0.85pt]L2983) {1.2983};
\node[pbox, fill=mtorangered] at ([xshift=0.85pt]L3012) {1.3012};
\node[pbox, fill=black] at ([xshift=0.85pt]L3009) {1.3009};
\end{tikzpicture}
\end{document}
